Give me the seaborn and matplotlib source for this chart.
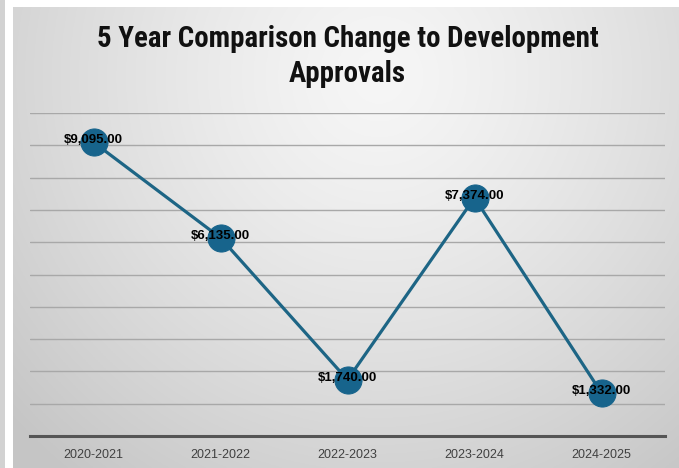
import numpy as np
import pandas as pd
import matplotlib
matplotlib.use("Agg")
import matplotlib.pyplot as plt
from matplotlib import font_manager
import seaborn as sns

# Fiscal years and approval values (dollars)
years = ["2020-2021", "2021-2022", "2022-2023", "2023-2024", "2024-2025"]
approvals = [9095, 6135, 1740, 7374, 1332]
y_ticks = [0, 1000, 2000, 3000, 4000, 5000, 6000, 7000, 8000, 9000, 10000]
title_lines = ["5 Year Comparison Change to Development", "Approvals"]

df = pd.DataFrame({"Year": years, "Approvals": approvals})

sns.set_theme(style="white")
plt.rcParams["font.family"] = ["Liberation Sans", "DejaVu Sans"]

# Prefer a narrow bold face for the heading when one is installed
installed = {f.name for f in font_manager.fontManager.ttflist}
narrow = [n for n in ["Roboto Condensed", "Liberation Sans Narrow", "Open Sans Condensed",
                      "Noto Sans Condensed", "DejaVu Sans Condensed"] if n in installed]
title_family = narrow[:1] + ["Liberation Sans", "DejaVu Sans"]

W, H, DPI = 679, 468, 100
fig = plt.figure(figsize=(W / DPI, H / DPI), dpi=DPI)
fig.patch.set_facecolor("white")

# Spreadsheet strip on the far left
strip = fig.add_axes([0, 0, 5 / W, 1])
strip.set_axis_off()
strip.add_patch(plt.Rectangle((0, 0), 1, 1, color="#d2d2d2", transform=strip.transAxes))

# Radial grey gradient behind the chart
bg = fig.add_axes([13 / W, 0, (W - 13) / W, (H - 7) / H])
bg.set_axis_off()
gx, gy = np.meshgrid(np.linspace(0, 1, 400), np.linspace(0, 1, 300))
r = np.sqrt(((gx - 0.55) / 0.75) ** 2 + ((gy - 0.15) / 1.1) ** 2)
r = np.clip(r, 0, 1)
shade = 0.965 - 0.19 * r ** 1.3
bg.imshow(np.dstack([shade] * 3), aspect="auto", origin="upper", extent=[0, 1, 0, 1])

# Plot area
ax = fig.add_axes([30 / W, 32 / H, 635 / W, (436 - 113) / H])
ax.patch.set_alpha(0)

for v in y_ticks[1:]:
    ax.axhline(v, color="#a8a8a8", lw=1.0, zorder=0)

sns.lineplot(data=df, x="Year", y="Approvals", ax=ax, sort=False,
             color="#1d6585", lw=2.3, marker="o", markersize=19.5,
             markerfacecolor="#17648c", markeredgecolor="#17648c", zorder=3)

for i, v in enumerate(approvals):
    ax.text(i, v + 60, f"${v:,.2f}", ha="center", va="center",
            fontsize=9.5, fontweight="bold", color="#000000", zorder=5)

ax.set_xlim(-0.5, len(years) - 0.5)
ax.set_ylim(0, 10000)
ax.set_yticks([])
ax.set_xlabel("")
ax.set_ylabel("")
for s in ["top", "right", "left"]:
    ax.spines[s].set_visible(False)
ax.spines["bottom"].set_color("#555555")
ax.spines["bottom"].set_linewidth(2.2)
ax.tick_params(axis="x", length=0, pad=9, labelsize=9, labelcolor="#404040")

fig.text(0.5 + 8 / W, 1 - 39 / H, title_lines[0], ha="center", va="center",
         fontsize=20.8, fontweight="bold", color="#111111", family=title_family)
fig.text(0.5 + 8 / W, 1 - 74 / H, title_lines[1], ha="center", va="center",
         fontsize=20.8, fontweight="bold", color="#111111", family=title_family)

fig.savefig("out.png", dpi=DPI)
